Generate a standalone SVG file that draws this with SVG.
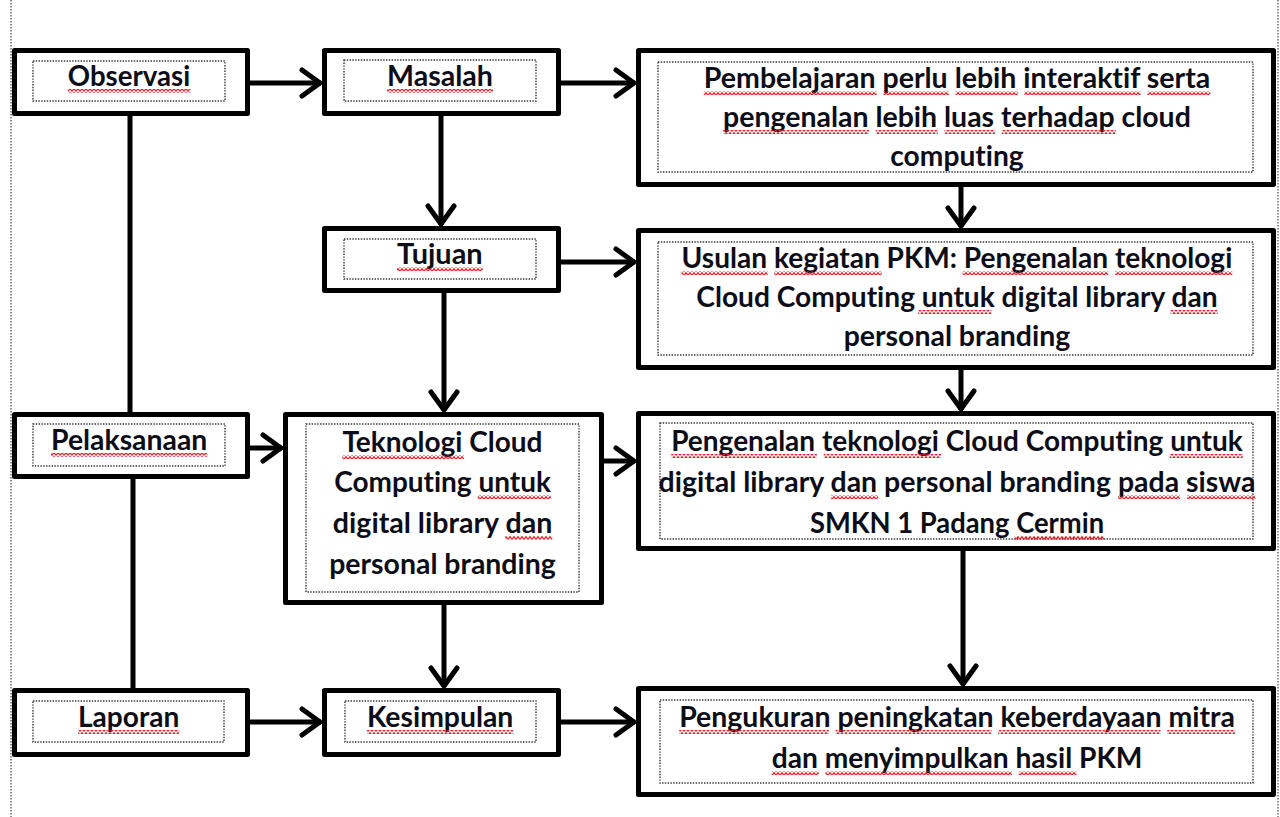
<svg xmlns="http://www.w3.org/2000/svg" width="1280" height="817" viewBox="0 0 1280 817">
<defs>
<style>
.box{fill:#fff;stroke:#000;stroke-width:5;stroke-linejoin:round}
.inner{fill:none;stroke:#333;stroke-width:1.4;stroke-dasharray:1.4 1.4}
.t{font-family:Lato,"Open Sans","Liberation Sans",sans-serif;font-weight:bold;font-size:28.5px;fill:#0d0d18;font-variant-ligatures:none}
.w{fill:url(#wave)}
.c{fill:none;stroke:#000;stroke-width:5}
.pg{fill:none;stroke:#555;stroke-width:1.3;stroke-dasharray:1.5 1.5}
</style>
<pattern id="wave" width="4" height="4" patternUnits="userSpaceOnUse">
<path d="M0,3.3 L2,0.7 L4,3.3" fill="none" stroke="#e8202a" stroke-width="1.3"/>
</pattern>
<marker id="ah" markerUnits="userSpaceOnUse" orient="auto" markerWidth="40" markerHeight="40" viewBox="-25 -20 40 40" refX="0" refY="0" overflow="visible">
<path d="M-19,-13 L-1,0 L-19,13" fill="none" stroke="#000" stroke-width="5" stroke-linecap="round" stroke-linejoin="round"/>
</marker>
</defs>
<rect width="1280" height="817" fill="#fff"/>
<line class="pg" x1="11" y1="0" x2="11" y2="817"/>
<line class="pg" x1="1278" y1="0" x2="1278" y2="817"/>

<g id="connectors">
<line class="c" x1="130" y1="116" x2="130" y2="412"/>
<line class="c" x1="133" y1="479" x2="133" y2="688"/>
<line class="c" x1="250" y1="83" x2="321" y2="83" marker-end="url(#ah)"/>
<line class="c" x1="561" y1="83" x2="635" y2="83" marker-end="url(#ah)"/>
<line class="c" x1="441" y1="116" x2="441" y2="225" marker-end="url(#ah)"/>
<line class="c" x1="961" y1="187" x2="961" y2="227" marker-end="url(#ah)"/>
<line class="c" x1="561" y1="262" x2="635" y2="262" marker-end="url(#ah)"/>
<line class="c" x1="444" y1="293" x2="444" y2="411" marker-end="url(#ah)"/>
<line class="c" x1="961" y1="370" x2="961" y2="410" marker-end="url(#ah)"/>
<line class="c" x1="250" y1="448" x2="282" y2="448" marker-end="url(#ah)"/>
<line class="c" x1="604" y1="461" x2="635" y2="461" marker-end="url(#ah)"/>
<line class="c" x1="444" y1="605" x2="444" y2="687" marker-end="url(#ah)"/>
<line class="c" x1="963" y1="551" x2="963" y2="685" marker-end="url(#ah)"/>
<line class="c" x1="250" y1="722" x2="321" y2="722" marker-end="url(#ah)"/>
<line class="c" x1="561" y1="722" x2="635" y2="722" marker-end="url(#ah)"/>
</g>

<g id="observasi">
<rect class="box" x="14.5" y="50.5" width="233" height="63"/>
<rect class="inner" x="33" y="61" width="192" height="40"/>
<text class="t" x="67.8" y="86" textLength="122.5" lengthAdjust="spacingAndGlyphs">Observasi</text>
<rect class="w" x="67.8" y="89" width="122.5" height="4"/>
</g>

<g id="masalah">
<rect class="box" x="324.5" y="50.5" width="234" height="63"/>
<rect class="inner" x="344" y="60" width="192" height="41"/>
<text class="t" x="387" y="86" textLength="106" lengthAdjust="spacingAndGlyphs">Masalah</text>
<rect class="w" x="387" y="89" width="106" height="4"/>
</g>

<g id="pembelajaran">
<rect class="box" x="638.5" y="50.5" width="635" height="134"/>
<rect class="inner" x="658" y="62" width="595" height="110"/>
<text class="t" x="703.8" y="88" textLength="506.5" lengthAdjust="spacingAndGlyphs">Pembelajaran perlu lebih interaktif serta</text>
<text class="t" x="723.1" y="127" textLength="467.7" lengthAdjust="spacingAndGlyphs">pengenalan lebih luas terhadap cloud</text>
<text class="t" x="890.3" y="166" textLength="133.4" lengthAdjust="spacingAndGlyphs">computing</text>
<rect class="w" x="703.8" y="91" width="172.9" height="4"/>
<rect class="w" x="883.5" y="91" width="65.3" height="4"/>
<rect class="w" x="955.6" y="91" width="62.1" height="4"/>
<rect class="w" x="1024.4" y="91" width="116.2" height="4"/>
<rect class="w" x="1147.4" y="91" width="62.9" height="4"/>
<rect class="w" x="723.1" y="130" width="145.9" height="4"/>
<rect class="w" x="875.7" y="130" width="62.1" height="4"/>
<rect class="w" x="944.6" y="130" width="50.3" height="4"/>
<rect class="w" x="1001.7" y="130" width="114.1" height="4"/>
</g>

<g id="tujuan">
<rect class="box" x="324.5" y="228.5" width="234" height="62"/>
<rect class="inner" x="344" y="239" width="192" height="40"/>
<text class="t" x="397" y="264" textLength="85.7" lengthAdjust="spacingAndGlyphs">Tujuan</text>
<rect class="w" x="397" y="267" width="85.7" height="4"/>
</g>

<g id="usulan">
<rect class="box" x="638.5" y="230.5" width="635" height="137"/>
<rect class="inner" x="658" y="242" width="595" height="113"/>
<text class="t" x="681.6" y="268" textLength="550.7" lengthAdjust="spacingAndGlyphs">Usulan kegiatan PKM: Pengenalan teknologi</text>
<text class="t" x="696.3" y="307" textLength="521.3" lengthAdjust="spacingAndGlyphs">Cloud Computing untuk digital library dan</text>
<text class="t" x="843.7" y="346" textLength="226.6" lengthAdjust="spacingAndGlyphs">personal branding</text>
<rect class="w" x="681.6" y="271" width="86" height="4"/>
<rect class="w" x="774.4" y="271" width="107.2" height="4"/>
<rect class="w" x="962.6" y="271" width="145.7" height="4"/>
<rect class="w" x="1115.1" y="271" width="117.2" height="4"/>
<rect class="w" x="918.2" y="310" width="73.2" height="4"/>
<rect class="w" x="1170.6" y="310" width="47" height="4"/>
</g>

<g id="pelaksanaan">
<rect class="box" x="14.5" y="414.5" width="233" height="62"/>
<rect class="inner" x="33" y="424" width="192" height="42"/>
<text class="t" x="51" y="450" textLength="156.3" lengthAdjust="spacingAndGlyphs">Pelaksanaan</text>
<rect class="w" x="51" y="453" width="156.3" height="4"/>
</g>

<g id="teknologi">
<rect class="box" x="285.5" y="414.5" width="316" height="188"/>
<rect class="inner" x="306" y="424" width="273" height="168"/>
<text class="t" x="342.4" y="452" textLength="200.1" lengthAdjust="spacingAndGlyphs">Teknologi Cloud</text>
<text class="t" x="334.2" y="492" textLength="216.7" lengthAdjust="spacingAndGlyphs">Computing untuk</text>
<text class="t" x="332.8" y="533" textLength="219.5" lengthAdjust="spacingAndGlyphs">digital library dan</text>
<text class="t" x="329.2" y="574" textLength="226.6" lengthAdjust="spacingAndGlyphs">personal branding</text>
<rect class="w" x="342.4" y="455" width="121.7" height="4"/>
<rect class="w" x="477.7" y="495" width="73.2" height="4"/>
<rect class="w" x="505.3" y="536" width="47" height="4"/>
</g>

<g id="pengenalan">
<rect class="box" x="638.5" y="413.5" width="635" height="135"/>
<rect class="inner" x="660" y="423" width="593" height="116"/>
<text class="t" x="671.2" y="451" textLength="571.6" lengthAdjust="spacingAndGlyphs">Pengenalan teknologi Cloud Computing untuk</text>
<text class="t" x="658.6" y="492" textLength="596.8" lengthAdjust="spacingAndGlyphs">digital library dan personal branding pada siswa</text>
<text class="t" x="809.9" y="533" textLength="294.2" lengthAdjust="spacingAndGlyphs">SMKN 1 Padang Cermin</text>
<rect class="w" x="671.2" y="454" width="145.7" height="4"/>
<rect class="w" x="823.7" y="454" width="117.3" height="4"/>
<rect class="w" x="1169.7" y="454" width="73.1" height="4"/>
<rect class="w" x="831.1" y="495" width="47" height="4"/>
<rect class="w" x="1118.2" y="495" width="61.9" height="4"/>
<rect class="w" x="1186.9" y="495" width="68.5" height="4"/>
<rect class="w" x="1014.6" y="536" width="89.5" height="4"/>
</g>

<g id="laporan">
<rect class="box" x="14.5" y="690.5" width="233" height="64"/>
<rect class="inner" x="33" y="701" width="191" height="41"/>
<text class="t" x="78" y="727" textLength="101.3" lengthAdjust="spacingAndGlyphs">Laporan</text>
<rect class="w" x="78" y="730" width="101.3" height="4"/>
</g>

<g id="kesimpulan">
<rect class="box" x="324.5" y="690.5" width="234" height="64"/>
<rect class="inner" x="345" y="701" width="191" height="41"/>
<text class="t" x="367" y="727" textLength="146.3" lengthAdjust="spacingAndGlyphs">Kesimpulan</text>
<rect class="w" x="367" y="730" width="146.3" height="4"/>
</g>

<g id="pengukuran">
<rect class="box" x="638.5" y="688.5" width="635" height="106"/>
<rect class="inner" x="660" y="700" width="593" height="83"/>
<text class="t" x="679.2" y="727" textLength="555.7" lengthAdjust="spacingAndGlyphs">Pengukuran peningkatan keberdayaan mitra</text>
<text class="t" x="771.7" y="768" textLength="370.7" lengthAdjust="spacingAndGlyphs">dan menyimpulkan hasil PKM</text>
<rect class="w" x="679.2" y="730" width="149.6" height="4"/>
<rect class="w" x="835.6" y="730" width="155.8" height="4"/>
<rect class="w" x="998.2" y="730" width="162.3" height="4"/>
<rect class="w" x="1167.2" y="730" width="67.7" height="4"/>
<rect class="w" x="771.7" y="771" width="47" height="4"/>
<rect class="w" x="825.5" y="771" width="186.5" height="4"/>
<rect class="w" x="1018.8" y="771" width="57.7" height="4"/>
</g>
</svg>
